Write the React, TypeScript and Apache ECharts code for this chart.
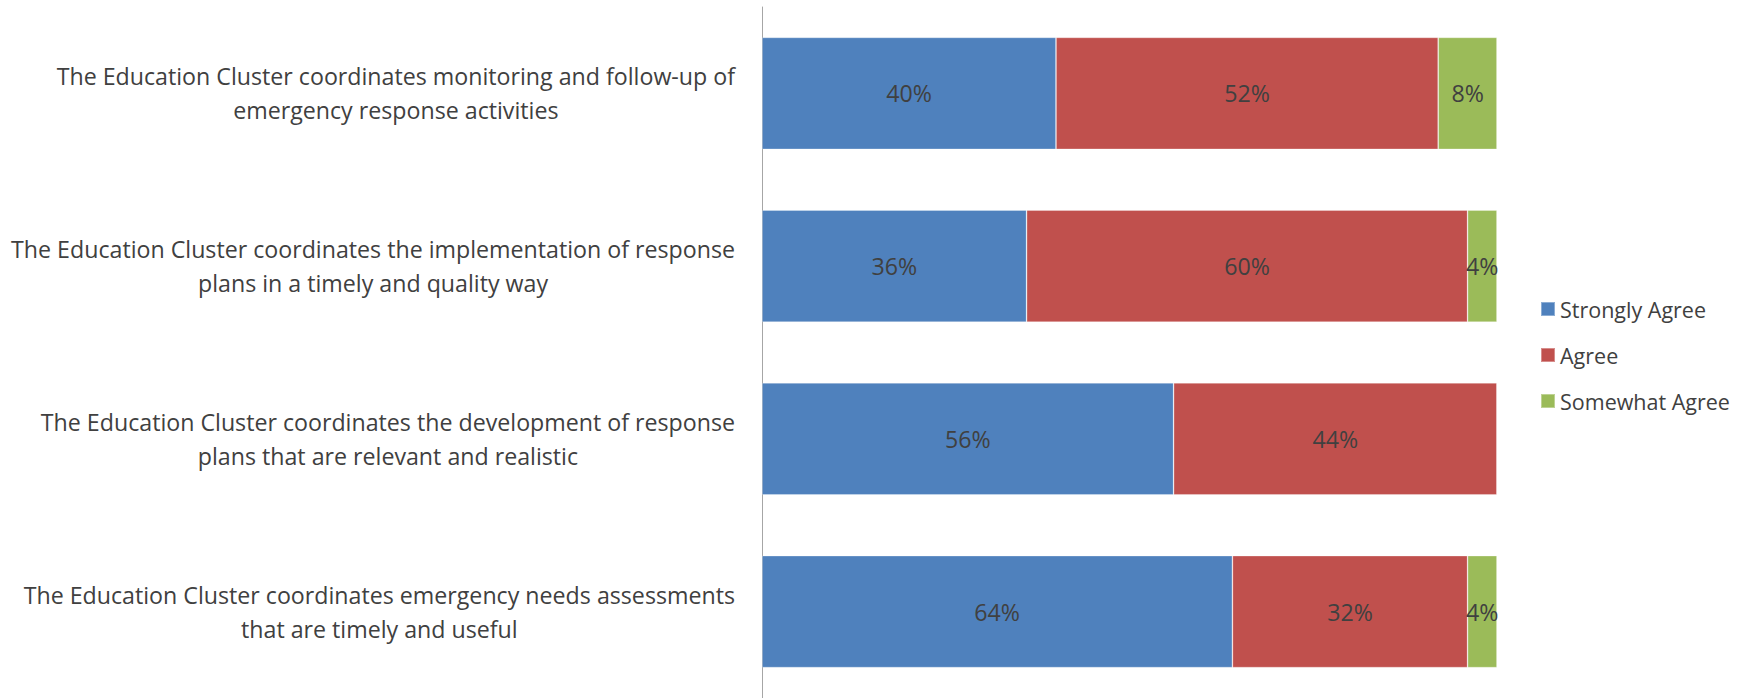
import React, { useEffect, useRef } from "react";
import * as echarts from "echarts";

const categories: string[] = [
  "The Education Cluster coordinates monitoring and follow-up of\nemergency response activities",
  "The Education Cluster coordinates the implementation of response\nplans in a timely and quality way",
  "The Education Cluster coordinates the development of response\nplans that are relevant and realistic",
  "The Education Cluster coordinates emergency needs assessments\nthat are timely and useful",
];
const seriesNames: string[] = ["Strongly Agree", "Agree", "Somewhat Agree"];
const stronglyAgree: number[] = [40, 36, 56, 64];
const agree: number[] = [52, 60, 44, 32];
const somewhatAgree: number[] = [8, 4, 0, 4];
const colors: string[] = ["#4F81BD", "#C0504D", "#9BBB59"];

const FONT = "'Open Sans', sans-serif";
const TEXT = "#404040";
const FS = 23.2;

export default function App() {
  const ref = useRef<HTMLDivElement>(null);
  useEffect(() => {
    if (!ref.current) return;
    const chart = echarts.init(ref.current, undefined, { renderer: "svg" });
    const values = [stronglyAgree, agree, somewhatAgree];
    chart.setOption({
      animation: false,
      textStyle: { fontFamily: FONT },
      grid: { left: 762, right: 253, top: 7, height: 696, containLabel: false },
      legend: {
        orient: "vertical",
        left: 1540,
        top: 298,
        padding: 0,
        itemWidth: 14,
        itemHeight: 14,
        itemGap: 24,
        icon: "rect",
        textStyle: { fontFamily: FONT, fontSize: 21.5, lineHeight: 22, color: TEXT },
        data: seriesNames,
      },
      xAxis: { type: "value", min: 0, max: 100, show: false },
      yAxis: {
        type: "category",
        inverse: true,
        data: categories,
        axisLine: { show: true, lineStyle: { color: "#A6A6A6", width: 1 } },
        axisTick: { show: false },
        axisLabel: {
          margin: 27,
          fontFamily: FONT,
          fontSize: FS,
          color: TEXT,
          lineHeight: 34,
          formatter: (v: string) =>
            v
              .split("\n")
              .map((l) => `{c|${l}}`)
              .join("\n"),
          rich: { c: { align: "center", fontFamily: FONT, fontSize: FS, color: TEXT, lineHeight: 34 } },
        },
      },
      series: seriesNames.map((name, i) => ({
        name,
        type: "bar",
        stack: "total",
        barWidth: 112,
        data: values[i],
        itemStyle: { color: colors[i], borderColor: "rgba(255,255,255,0.35)", borderWidth: 0.8 },
        label: {
          show: true,
          position: "inside",
          fontFamily: FONT,
          fontSize: FS,
          color: TEXT,
          formatter: (p: any) => (p.value ? `${p.value}%` : ""),
        },
      })),
    });
    return () => chart.dispose();
  }, []);
  return (
    <div
      ref={ref}
      style={{ position: "absolute", left: 0, top: 0, width: 1750, height: 698, background: "#fff" }}
    />
  );
}
